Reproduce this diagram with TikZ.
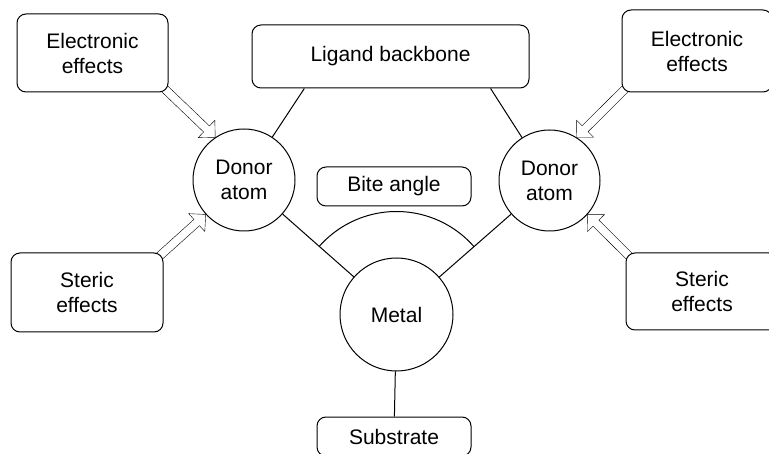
\documentclass[tikz,border=0pt]{standalone}
\usepackage{fontspec}
\setmainfont{Liberation Sans}
\usetikzlibrary{angles,backgrounds,calc}

\begin{document}
\begin{tikzpicture}[x=1pt,y=1pt,line width=1pt,
	every node/.style={font=\fontsize{21}{25}\selectfont,align=center},
	box/.style={draw,rounded corners=9pt,fill=white,inner sep=0pt},
	atom/.style={draw,circle,fill=white,inner sep=0pt},
	hollow/.style={fill=white,to path={let \p1=(\tikztostart),\p2=(\tikztotarget),
		\n1={atan2(\y2-\y1,\x2-\x1)},\n2={veclen(\x2-\x1,\y2-\y1)-12} in
		($(\p1)+(\n1+180:6)+(\n1+90:4.2)$) -- ($(\p1)+(\n1:\n2)+(\n1+90:4.2)$)
		-- ($(\p1)+(\n1:\n2)+(\n1+90:12)$) -- (\p2)
		-- ($(\p1)+(\n1:\n2)+(\n1-90:12)$) -- ($(\p1)+(\n1:\n2)+(\n1-90:4.2)$)
		-- ($(\p1)+(\n1+180:6)+(\n1-90:4.2)$) -- cycle}}]
		\clip (0,0) rectangle (769,453);
		\node[box,minimum width=151pt,minimum height=78pt] (lelec) at (92.5,400) {Electronic\\effects};
		\node[box,minimum width=150pt,minimum height=82pt] (relec) at (697,402) {Electronic\\effects};
		\node[box,minimum width=152pt,minimum height=79pt] (lsteric) at (87,160.5) {Steric\\effects};
		\node[box,minimum width=152pt,minimum height=77pt] (rsteric) at (702,161.5) {Steric\\effects};
		\node[box,minimum width=277pt,minimum height=63pt] (backbone) at (390.5,396.5) {Ligand backbone};
		\node[box,minimum width=154pt,minimum height=39pt] (bite) at (394,266.5) {Bite angle};
		\node[box,minimum width=154pt,minimum height=39pt] (substrate) at (394,16.5) {Substrate};
		\node[atom,minimum size=102pt] (ldonor) at (244,273) {Donor\\atom};
		\node[atom,minimum size=101pt] (rdonor) at (549.5,272.5) {Donor\\atom};
		\node[atom,minimum size=113pt] (metal) at (396.5,138.5) {Metal};
		\draw ($(backbone.south west)!0.19!(backbone.south east)$) -- (ldonor);
		\draw ($(backbone.south west)!0.86!(backbone.south east)$) -- (rdonor);
		\draw (metal) -- (ldonor);
		\draw (metal) -- (rdonor);
		\draw (metal) -- (substrate);
		\pic[draw,angle radius=103pt] {angle=rdonor--metal--ldonor};
		\begin{scope}[on background layer]
			\draw[hollow] (lelec.south east) to (ldonor.124);
			\draw[hollow] (relec.south west) to (rdonor.58);
			\draw[hollow] (lsteric.north east) to (ldonor.222);
			\draw[hollow] (rsteric.north west) to (rdonor.318);
		\end{scope}
	\end{tikzpicture}
\end{document}
